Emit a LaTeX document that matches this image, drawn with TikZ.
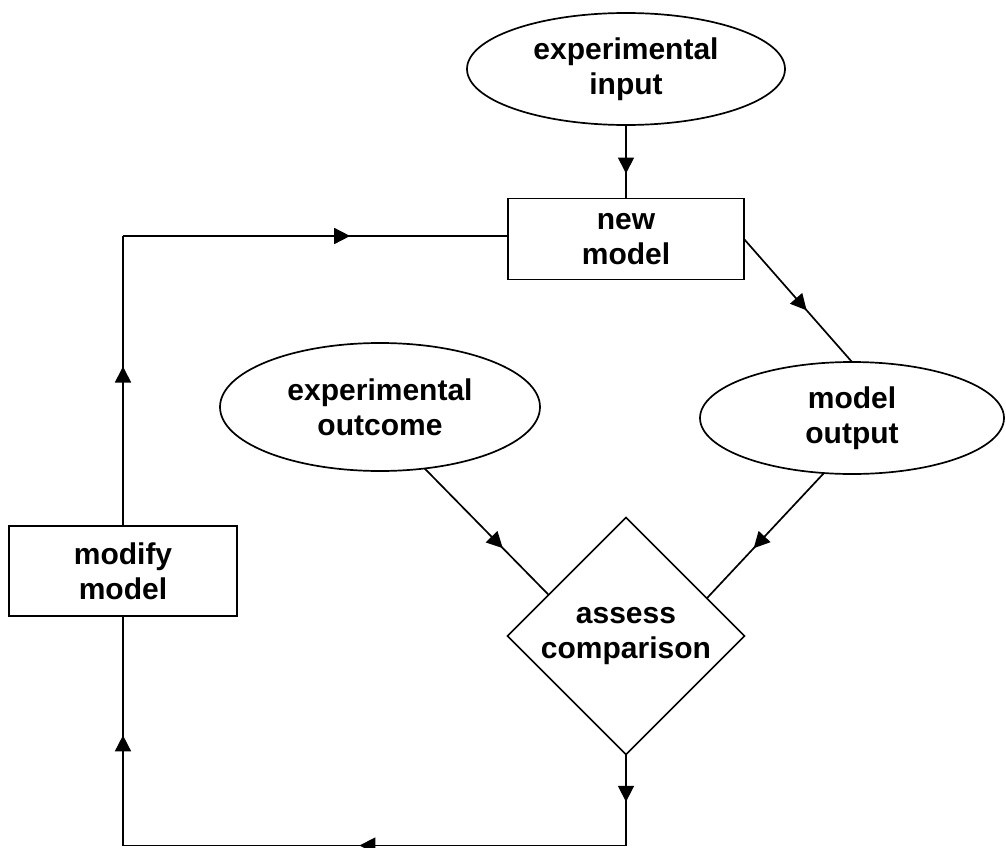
\documentclass[tikz,border=0pt]{standalone}
\usepackage{fontspec}
\setmainfont{Liberation Sans}
\usetikzlibrary{positioning,shapes.geometric,arrows.meta,decorations.markings}
\begin{document}
\begin{tikzpicture}[x=1pt,y=-1pt,on grid,line width=1.7pt,
  font=\bfseries\fontsize{30}{35}\selectfont]
\tikzstyle{ellip} = [ellipse, draw=black, align=center, inner sep=0pt, outer sep=0pt]
\tikzstyle{rect} = [rectangle, draw=black, align=center, inner sep=0pt, outer sep=0pt]
\tikzstyle{decision} = [diamond, shape aspect=1, draw=black, align=center, inner sep=0pt, outer sep=0pt, minimum size=237pt]
\tikzstyle{midarrow} = [postaction={decorate,decoration={markings,
  mark=at position #1 with {\arrow{Triangle[length=16pt,width=16pt]}}}}]
\useasboundingbox (0,0) rectangle (1006,848);
\node (expin) [ellip, minimum width=318pt, minimum height=112pt] at (626,69) {experimental\\input};
\node (newmodel) [rect, minimum width=236pt, minimum height=81pt, below=170pt of expin] {new\\model};
\node (expout) [ellip, minimum width=320pt, minimum height=128pt, below left=168pt and 246pt of newmodel] {experimental\\outcome};
\node (modout) [ellip, minimum width=304pt, minimum height=112pt, below right=179pt and 226pt of newmodel] {model\\output};
\node (assess) [decision, below=397pt of newmodel] {assess\\comparison};
\node (modify) [rect, minimum width=228pt, minimum height=90pt, above left=65pt and 503pt of assess] {modify\\model};
\coordinate (cornerR) at ([yshift=-91pt]assess.south);
\coordinate (cornerL) at (cornerR -| modify);
\coordinate (cornerT) at ([yshift=3pt]modify |- newmodel);
\draw [midarrow=0.66] (expin) -- (newmodel);
\draw [midarrow=0.58] (newmodel.east) -- (modout.north);
\draw [midarrow=0.63] (expout.-54) -- (assess.152);
\draw [midarrow=0.6] (modout.-117) -- (assess.25);
\draw [midarrow=0.52] (assess.south) -- (cornerR);
\draw [midarrow=0.53] (cornerR) -- (cornerL);
\draw [midarrow=0.48] (cornerL) -- (modify.south);
\draw [midarrow=0.55] (modify.north) -- (cornerT);
\draw [midarrow=0.59] (cornerT) -- (cornerT -| newmodel.west);
\end{tikzpicture}
\end{document}
